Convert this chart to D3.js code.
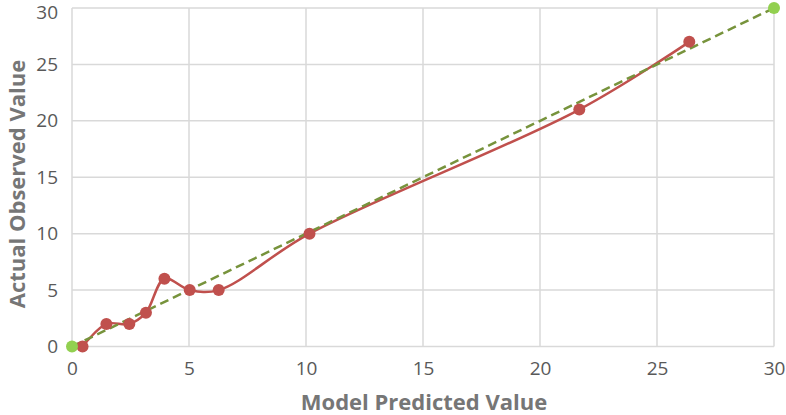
<!DOCTYPE html>
<html>
<head>
<meta charset="utf-8">
<script src="https://cdn.jsdelivr.net/npm/d3@7"></script>
<style>
  body { margin: 0; background: #fff; }
  svg { display: block; font-family: "Open Sans", "Noto Sans", sans-serif; }
</style>
</head>
<body>
<div id="chart"></div>
<script>
// observed vs predicted
const predicted = [0.45, 1.47, 2.45, 3.16, 3.95, 5.03, 6.27, 10.15, 21.68, 26.38];
const observed  = [0, 2, 2, 3, 6, 5, 5, 10, 21, 27];

// perfect-fit reference line
const refX = [0, 30];
const refY = [0, 30];

const xTicks = [0, 5, 10, 15, 20, 25, 30];
const yTicks = [0, 5, 10, 15, 20, 25, 30];

const width = 786, height = 415;
const margin = {top: 8, right: 12, bottom: 68, left: 72};

const svg = d3.select("#chart").append("svg")
  .attr("width", width)
  .attr("height", height);

const x = d3.scaleLinear().domain([0, 30]).range([margin.left, width - margin.right]);
const y = d3.scaleLinear().domain([0, 30]).range([height - margin.bottom - 0.5, margin.top]);

// grid
svg.append("g")
  .selectAll("line")
  .data(xTicks)
  .enter().append("line")
  .attr("x1", d => x(d)).attr("x2", d => x(d))
  .attr("y1", y(0)).attr("y2", y(30))
  .attr("stroke", "#d9d9d9").attr("stroke-width", 1.5);

svg.append("g")
  .selectAll("line")
  .data(yTicks)
  .enter().append("line")
  .attr("x1", x(0)).attr("x2", x(30))
  .attr("y1", d => y(d)).attr("y2", d => y(d))
  .attr("stroke", "#d9d9d9").attr("stroke-width", 1.5);

// axes (labels only)
const xAxis = svg.append("g")
  .attr("transform", "translate(0," + y(0) + ")")
  .call(d3.axisBottom(x).tickValues(xTicks).tickSize(0).tickPadding(15));
xAxis.select(".domain").remove();
xAxis.selectAll("text")
  .attr("font-size", 19).attr("fill", "#595959")
  .attr("font-family", "Open Sans, sans-serif");

const yAxis = svg.append("g")
  .attr("transform", "translate(" + x(0) + ",0)")
  .call(d3.axisLeft(y).tickValues(yTicks).tickSize(0).tickPadding(14));
yAxis.select(".domain").remove();
yAxis.selectAll("text")
  .attr("font-size", 19).attr("fill", "#595959")
  .attr("font-family", "Open Sans, sans-serif");
// keep the top label inside the frame
yAxis.selectAll(".tick").filter(d => d === 30).select("text").attr("dy", "0.55em");

// axis titles
svg.append("text")
  .attr("x", 424)
  .attr("y", 410)
  .attr("text-anchor", "middle")
  .attr("font-size", 22).attr("font-weight", "bold")
  .attr("fill", "#767676")
  .text("Model Predicted Value");

svg.append("text")
  .attr("transform", "translate(25,184) rotate(-90)")
  .attr("text-anchor", "middle")
  .attr("font-size", 22).attr("font-weight", "bold")
  .attr("fill", "#767676")
  .text("Actual Observed Value");

// observed series, smoothed
const pts = predicted.map((d, i) => [d, observed[i]]);
const line = d3.line()
  .x(d => x(d[0])).y(d => y(d[1]))
  .curve(d3.curveCatmullRom.alpha(0.5));

svg.append("path")
  .datum(pts)
  .attr("d", line)
  .attr("fill", "none")
  .attr("stroke", "#c0504d")
  .attr("stroke-width", 2.5);

// reference line
const ref = refX.map((d, i) => [d, refY[i]]);
svg.append("path")
  .datum(ref)
  .attr("d", d3.line().x(d => x(d[0])).y(d => y(d[1])))
  .attr("fill", "none")
  .attr("stroke", "#77933c")
  .attr("stroke-width", 2.5)
  .attr("stroke-dasharray", "9,5");

svg.append("g")
  .selectAll("circle")
  .data(pts)
  .enter().append("circle")
  .attr("cx", d => x(d[0])).attr("cy", d => y(d[1]))
  .attr("r", 6)
  .attr("fill", "#c0504d");

svg.append("g")
  .selectAll("circle")
  .data(ref)
  .enter().append("circle")
  .attr("cx", d => x(d[0])).attr("cy", d => y(d[1]))
  .attr("r", 6)
  .attr("fill", "#92d050");
</script>
</body>
</html>
